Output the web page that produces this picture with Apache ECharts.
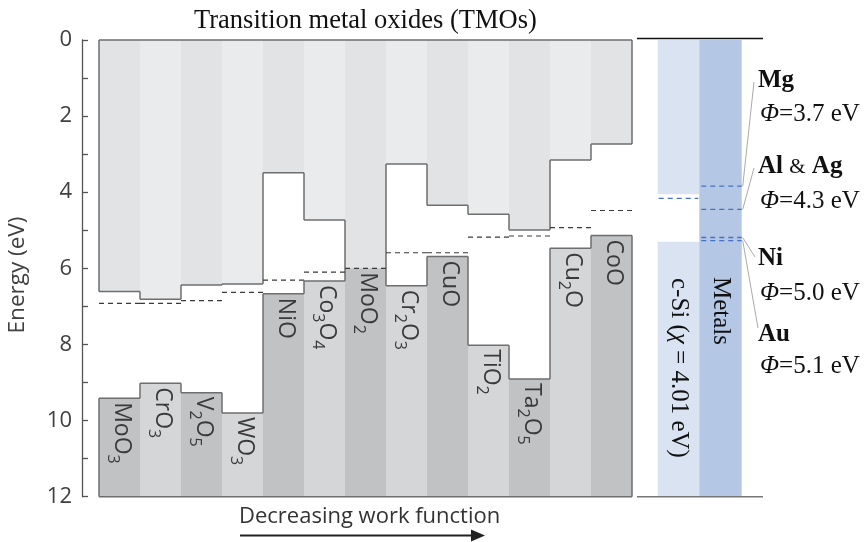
<!DOCTYPE html>
<html><head><meta charset="utf-8">
<script src="https://cdn.jsdelivr.net/npm/echarts@6/dist/echarts.min.js"></script>
<style>html,body{margin:0;padding:0;background:#fff}#c{width:867px;height:542px}</style>
</head><body><div id="c"></div>
<script>
// ---- data ----
const oxideLabels = ['MoO{s|3}','CrO{s|3}','V{s|2}O{s|5}','WO{s|3}','NiO','Co{s|3}O{s|4}','MoO{s|2}','Cr{s|2}O{s|3}','CuO','TiO{s|2}','Ta{s|2}O{s|5}','Cu{s|2}O','CoO'];
const cbEdge = [6.61, 6.81, 6.44, 6.41, 3.49, 4.73, 6.00, 3.26, 4.34, 4.58, 4.99, 3.15, 2.73];
const vbEdge = [9.41, 9.02, 9.27, 9.80, 6.67, 6.33, 6.00, 6.46, 5.69, 8.02, 8.91, 5.47, 5.14];
const workFunction = [6.92, 6.92, 6.85, 6.63, 6.31, 6.10, 6.00, 5.59, 5.59, 5.18, 5.15, 4.93, 4.48];
const yTicks = [0, 2, 4, 6, 8, 10, 12];
const siCB = 4.05, siFermi = 4.16, siVB = 5.30;
const metalLevels = [3.84, 4.45, 5.19, 5.27];
const metalNames = ['{b|Mg}', '{b|Al} {r|&} {b|Ag}', '{b|Ni}', '{b|Au}'];
const metalPhi = ['3.7', '4.3', '5.0', '5.1'];

// ---- layout / style ----
const SANS = '"Open Sans", "Noto Sans", sans-serif';
const SERIF = '"Liberation Serif", "DejaVu Serif", serif';
const EMAX = 12;
const XMIN = -17 / 41;
const SI_X = [13.627, 14.641], MET_X = [14.641, 15.676], LINE_X = [13.12, 16.195];
const cbFill = ['#e2e3e5', '#eaebed'], vbFill = ['#c1c2c4', '#d5d6d8'];
const OUT = {stroke: '#6e6e6e', lineWidth: 1.5};
const labelPix = [[81, 114], [167, 201], [259, 293], [335, 366]]; // label centre y (px)
const leaderEnd = [[754, 82], [754, 168], [755, 257], [758, 328]];

const chart = echarts.init(document.getElementById('c'), null, {renderer: 'canvas'});

function oxideItem(params, api) {
  const i = api.value(0), cb = api.value(1), vb = api.value(2), wf = api.value(3);
  const n = cbEdge.length;
  const X = v => api.coord([v, 0])[0];
  const Y = v => api.coord([0, v])[1];
  const x0 = X(i), x1 = X(i + 1);
  const ln = (a, b, c, d, style, z2) => ({type: 'line', shape: {x1: a, y1: b, x2: c, y2: d}, style: style, z2: z2});
  const ch = [];
  ch.push({type: 'rect', shape: {x: x0, y: Y(0), width: x1 - x0, height: Y(cb) - Y(0)}, style: {fill: cbFill[i % 2]}, z2: 0});
  ch.push({type: 'rect', shape: {x: x0, y: Y(vb), width: x1 - x0, height: Y(EMAX) - Y(vb)}, style: {fill: vbFill[i % 2]}, z2: 0});
  ch.push(ln(x0, Y(0), x1, Y(0), OUT, 5));
  ch.push(ln(x0, Y(EMAX), x1, Y(EMAX), OUT, 5));
  if (cb !== vb) {
    ch.push(ln(x0, Y(cb), x1, Y(cb), OUT, 5));
    ch.push(ln(x0, Y(vb), x1, Y(vb), OUT, 5));
  }
  if (i === 0) {
    ch.push(ln(x0, Y(0), x0, Y(cb), OUT, 5));
    ch.push(ln(x0, Y(vb), x0, Y(EMAX), OUT, 5));
  }
  if (i < n - 1) {
    ch.push(ln(x1, Y(cb), x1, Y(cbEdge[i + 1]), OUT, 5));
    ch.push(ln(x1, Y(vb), x1, Y(vbEdge[i + 1]), OUT, 5));
  } else {
    ch.push(ln(x1, Y(0), x1, Y(cb), OUT, 5));
    ch.push(ln(x1, Y(vb), x1, Y(EMAX), OUT, 5));
  }
  ch.push(ln(x0, Y(wf), x1, Y(wf), {stroke: '#3a3a3a', lineWidth: 1.2, lineDash: [5, 4]}, 6));
  ch.push({type: 'text', x: (x0 + x1) / 2 + 2, y: Y(vb) + 4, rotation: -Math.PI / 2, z2: 8,
    style: {text: oxideLabels[i], fill: '#3a3a3a', fontFamily: SANS, fontSize: 23, align: 'left', verticalAlign: 'middle',
      rich: {s: {fontFamily: SANS, fontSize: 16, fill: '#3a3a3a', verticalAlign: 'bottom', height: 6, lineHeight: 6}}}});
  return {type: 'group', children: ch};
}

function panelItem(params, api) {
  const X = v => api.coord([v, 0])[0];
  const Y = v => api.coord([0, v])[1];
  const ch = [];
  const rect = (xa, xb, ya, yb, fill) => ({type: 'rect', shape: {x: X(xa), y: Y(ya), width: X(xb) - X(xa), height: Y(yb) - Y(ya)}, style: {fill: fill}, z2: 0});
  const ln = (a, b, c, d, style, z2) => ({type: 'line', shape: {x1: a, y1: b, x2: c, y2: d}, style: style, z2: z2});
  ch.push(rect(SI_X[0], SI_X[1], 0, siCB, '#dae3f2'));
  ch.push(rect(SI_X[0], SI_X[1], siVB, EMAX, '#dae3f2'));
  ch.push(rect(MET_X[0], MET_X[1], 0, EMAX, '#b4c7e5'));
  const blue = {stroke: '#4472c4', lineWidth: 1.3, lineDash: [5, 4]};
  ch.push(ln(X(SI_X[0]) + 1, Y(siFermi), X(SI_X[1]) - 1, Y(siFermi), blue, 4));
  metalLevels.forEach((m, k) => {
    ch.push(ln(X(MET_X[0]) + 2, Y(m), X(MET_X[1]), Y(m), blue, 4));
    ch.push(ln(X(MET_X[1]) + 1, Y(m), leaderEnd[k][0], leaderEnd[k][1], {stroke: '#a0a0a0', lineWidth: 0.9}, 4));
    ch.push({type: 'text', x: 758, y: labelPix[k][0], z2: 8,
      style: {text: metalNames[k], fill: '#111', fontFamily: SERIF, fontSize: 25, align: 'left', verticalAlign: 'middle',
        rich: {b: {fontFamily: SERIF, fontSize: 25, fontWeight: 'bold', fill: '#111'}, r: {fontFamily: SERIF, fontSize: 21, fill: '#111'}}}});
    ch.push({type: 'text', x: 760, y: labelPix[k][1], z2: 8,
      style: {text: '{i|Φ}=' + metalPhi[k] + ' eV', fill: '#111', fontFamily: SERIF, fontSize: 25, align: 'left', verticalAlign: 'middle',
        rich: {i: {fontFamily: SERIF, fontSize: 25, fontStyle: 'italic', fill: '#111'}}}});
  });
  ch.push(ln(X(LINE_X[0]), Y(0) - 1.5, X(LINE_X[1]), Y(0) - 1.5, {stroke: '#111', lineWidth: 1.5}, 5));
  ch.push(ln(X(LINE_X[0]), Y(EMAX), X(LINE_X[1]), Y(EMAX), {stroke: '#777', lineWidth: 1.5}, 5));
  ch.push({type: 'text', x: (X(SI_X[0]) + X(SI_X[1])) / 2, y: 278, rotation: -Math.PI / 2, z2: 8,
    style: {text: 'c-Si ({i|χ} = 4.01 eV)', fill: '#111', fontFamily: SERIF, fontSize: 25, align: 'left', verticalAlign: 'middle',
      rich: {i: {fontFamily: SERIF, fontSize: 25, fontStyle: 'italic', fill: '#111'}}}});
  ch.push({type: 'text', x: (X(MET_X[0]) + X(MET_X[1])) / 2, y: 277, rotation: -Math.PI / 2, z2: 8,
    style: {text: 'Metals', fill: '#111', fontFamily: SERIF, fontSize: 25, align: 'left', verticalAlign: 'middle'}});
  return {type: 'group', children: ch};
}

const option = {
  animation: false,
  backgroundColor: '#fff',
  title: {text: 'Transition metal oxides (TMOs)', left: 189, top: 3,
    textStyle: {fontFamily: SERIF, fontSize: 26.5, fontWeight: 'normal', color: '#111'}},
  grid: {left: 82, right: 103.8, top: 40, bottom: 45.3},
  xAxis: {type: 'value', min: XMIN, max: 16.2, show: false},
  yAxis: {type: 'value', inverse: true, min: 0, max: EMAX, interval: 1,
    axisLine: {show: true, onZero: false, lineStyle: {color: '#555', width: 1.3}},
    axisTick: {show: true, inside: true, length: 6, lineStyle: {color: '#555', width: 1.3}},
    splitLine: {show: false},
    axisLabel: {margin: 10, color: '#404040', fontFamily: SANS, fontSize: 22,
      formatter: v => yTicks.indexOf(v) >= 0 ? String(v) : ''}},
  graphic: [
    {type: 'text', x: 18, y: 275, rotation: Math.PI / 2,
      style: {text: 'Energy (eV)', fill: '#404040', fontFamily: SANS, fontSize: 22.5, align: 'center', verticalAlign: 'middle'}},
    {type: 'text', x: 239, y: 517,
      style: {text: 'Decreasing work function', fill: '#333', fontFamily: SANS, fontSize: 22, align: 'left', verticalAlign: 'middle'}},
    {type: 'line', shape: {x1: 240, y1: 535.5, x2: 474, y2: 535.5}, style: {stroke: '#222', lineWidth: 2}},
    {type: 'polygon', shape: {points: [[471, 529.5], [485, 535.5], [471, 541.5]]}, style: {fill: '#222'}}
  ],
  series: [
    {type: 'custom', renderItem: oxideItem, clip: false,
      data: oxideLabels.map((_, i) => [i, cbEdge[i], vbEdge[i], workFunction[i]])},
    {type: 'custom', renderItem: panelItem, clip: false, data: [[0]]}
  ]
};
chart.setOption(option);
</script>
</body></html>
